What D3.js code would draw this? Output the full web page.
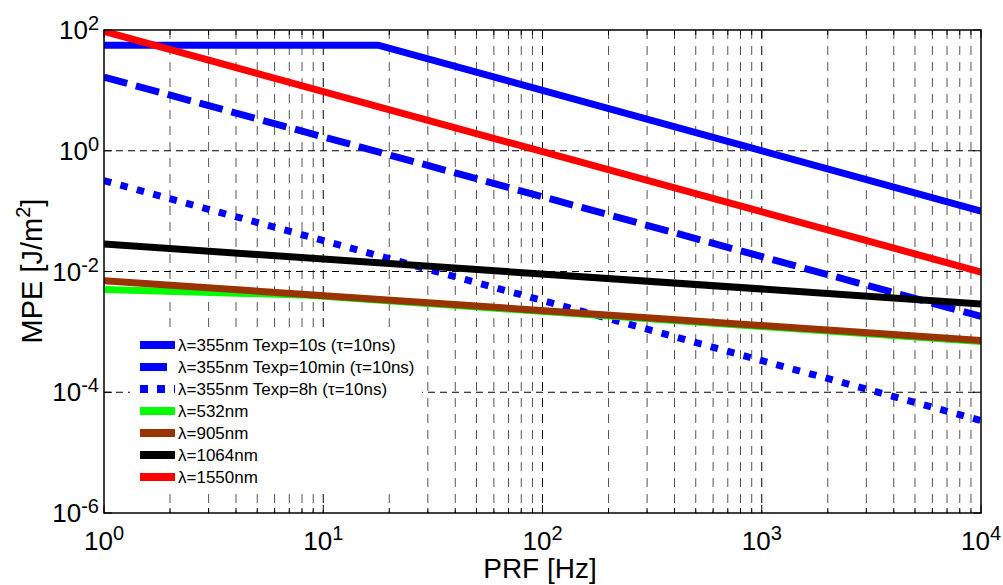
<!DOCTYPE html>
<meta charset="utf-8">
<style>
body { margin: 0; background: #fff; }
text { font-family: Arial, "Liberation Sans", Helvetica, sans-serif; fill: #000; }
</style>
<body>
<script src="https://d3js.org/d3.v7.min.js"></script>
<script>

// data: [PRF Hz, MPE J/m^2]
var uv10s   = [[1, 56], [17.8, 56], [10000, 0.1]];
var uv10min = [[1, 16.6], [10000, 0.0018]];
var uv8h    = [[1, 0.32], [10000, 0.000034]];
var vis532  = [[1, 0.00503], [8, 0.0041], [10000, 0.00069]];
var nir905  = [[1, 0.00705], [10000, 0.00072]];
var nir1064 = [[1, 0.0285], [10000, 0.0029]];
var ir1550  = [[1, 95], [10000, 0.0098]];

var seriesNames = [
  "\u03bb=355nm Texp=10s (\u03c4=10ns)",
  "\u03bb=355nm Texp=10min (\u03c4=10ns)",
  "\u03bb=355nm Texp=8h (\u03c4=10ns)",
  "\u03bb=532nm",
  "\u03bb=905nm",
  "\u03bb=1064nm",
  "\u03bb=1550nm"
];
var seriesData = [uv10s, uv10min, uv8h, vis532, nir905, nir1064, ir1550];

var xTicks = [1, 10, 100, 1000, 10000];
var xTickExp = ["0", "1", "2", "3", "4"];
var yTicks = [100, 1, 0.01, 0.0001, 0.000001];
var yTickExp = ["2", "0", "-2", "-4", "-6"];

// styles
var colors = ["#0000ff", "#0000ff", "#0000ff", "#00ff00", "#993300", "#000000", "#ff0000"];
var dashes = [null, "24,9", "7.5,9.5", null, null, null, null];

var width = 1003, height = 585;
// plot box (note: "top" is reserved on window, so use pTop etc.)
var pLeft = 104, pRight = 981, pTop = 30, pBottom = 513;

var svg = d3.select("body").append("svg")
    .attr("width", width)
    .attr("height", height);

var x = d3.scaleLog().domain([1, 10000]).range([pLeft, pRight]);
var y = d3.scaleLog().domain([0.000001, 100]).range([pBottom, pTop]);

// minor x grid (2..9 in each decade)
var minorX = [];
for (var d = 1; d < 10000; d *= 10) {
  for (var k = 2; k <= 9; k++) minorX.push(d * k);
}

var grid = svg.append("g");
grid.selectAll("line.minor")
    .data(minorX)
  .enter().append("line")
    .attr("x1", d => x(d)).attr("x2", d => x(d))
    .attr("y1", pTop).attr("y2", pBottom)
    .attr("stroke", "#555")
    .attr("stroke-width", 1)
    .attr("stroke-dasharray", "9,7");

grid.selectAll("line.majx")
    .data(xTicks.slice(1, -1))
  .enter().append("line")
    .attr("x1", d => x(d)).attr("x2", d => x(d))
    .attr("y1", pTop).attr("y2", pBottom)
    .attr("stroke", "#000")
    .attr("stroke-width", 1)
    .attr("stroke-dasharray", "9,7");

grid.selectAll("line.majy")
    .data(yTicks.slice(1, -1))
  .enter().append("line")
    .attr("x1", pLeft).attr("x2", pRight)
    .attr("y1", d => y(d)).attr("y2", d => y(d))
    .attr("stroke", "#000")
    .attr("stroke-width", 1)
    .attr("stroke-dasharray", "7,5");

// tick marks inside the box
var ticks = svg.append("g").attr("stroke", "#000").attr("stroke-width", 1);
ticks.selectAll("line.bt")
    .data(minorX.concat(xTicks))
  .enter().append("line")
    .attr("x1", d => x(d)).attr("x2", d => x(d))
    .attr("y1", pBottom).attr("y2", d => pBottom - (xTicks.indexOf(d) >= 0 ? 8 : 5));
ticks.selectAll("line.tt")
    .data(minorX.concat(xTicks))
  .enter().append("line")
    .attr("x1", d => x(d)).attr("x2", d => x(d))
    .attr("y1", pTop).attr("y2", d => pTop + (xTicks.indexOf(d) >= 0 ? 8 : 5));
ticks.selectAll("line.lt")
    .data(yTicks)
  .enter().append("line")
    .attr("x1", pLeft).attr("x2", pLeft + 8)
    .attr("y1", d => y(d)).attr("y2", d => y(d));
ticks.selectAll("line.rt")
    .data(yTicks)
  .enter().append("line")
    .attr("x1", pRight).attr("x2", pRight - 8)
    .attr("y1", d => y(d)).attr("y2", d => y(d));

// data lines
svg.append("clipPath").attr("id", "plotclip")
  .append("rect").attr("x", pLeft).attr("y", pTop)
    .attr("width", pRight - pLeft).attr("height", pBottom - pTop);

var line = d3.line().x(d => x(d[0])).y(d => y(d[1]));

svg.append("g").attr("clip-path", "url(#plotclip)")
  .selectAll("path")
    .data(seriesData)
  .enter().append("path")
    .attr("d", line)
    .attr("fill", "none")
    .attr("stroke", (d, i) => colors[i])
    .attr("stroke-width", 7)
    .attr("stroke-dasharray", (d, i) => dashes[i]);

// axes box
svg.append("rect")
    .attr("x", pLeft).attr("y", pTop)
    .attr("width", pRight - pLeft).attr("height", pBottom - pTop)
    .attr("fill", "none")
    .attr("stroke", "#000")
    .attr("stroke-width", 1.5);

// tick labels
var xl = svg.selectAll("text.xl")
    .data(xTicks)
  .enter().append("text")
    .attr("x", d => x(d))
    .attr("y", 550)
    .attr("text-anchor", "middle")
    .style("font-size", "26px");
xl.append("tspan").text("10");
xl.append("tspan").attr("dy", -10).style("font-size", "20px").text((d, i) => xTickExp[i]);

var yl = svg.selectAll("text.yl")
    .data(yTicks)
  .enter().append("text")
    .attr("x", 99)
    .attr("y", d => y(d) + 9)
    .attr("text-anchor", "end")
    .style("font-size", "26px");
yl.append("tspan").text("10");
yl.append("tspan").attr("dy", -9).style("font-size", "20px").text((d, i) => yTickExp[i]);

// axis labels
svg.append("text")
    .attr("x", 540).attr("y", 578)
    .attr("text-anchor", "middle")
    .style("font-size", "28px")
    .text("PRF [Hz]");

var ylab = svg.append("text")
    .attr("transform", "translate(42,271) rotate(-90)")
    .attr("text-anchor", "middle")
    .style("font-size", "29px");
ylab.append("tspan").text("MPE [J/m");
ylab.append("tspan").attr("dy", -12).style("font-size", "20px").text("2");
ylab.append("tspan").attr("dy", 12).text("]");

// legend (white box, no border)
var legend = svg.append("g");
legend.append("rect")
    .attr("x", 130).attr("y", 330)
    .attr("width", 292).attr("height", 159)
    .attr("fill", "#fff");

var rows = legend.selectAll("g")
    .data(seriesNames)
  .enter().append("g")
    .attr("transform", (d, i) => `translate(0,${345 + i * 22})`);

rows.append("line")
    .attr("x1", 140).attr("x2", 175)
    .attr("y1", 0).attr("y2", 0)
    .attr("stroke", (d, i) => colors[i])
    .attr("stroke-width", 8)
    .attr("stroke-dasharray", (d, i) => i == 1 ? "27,40" : (i == 2 ? "8,9" : null));

rows.append("text")
    .attr("x", 178).attr("y", 6)
    .style("font-size", "17px")
    .text(d => d);

</script>
